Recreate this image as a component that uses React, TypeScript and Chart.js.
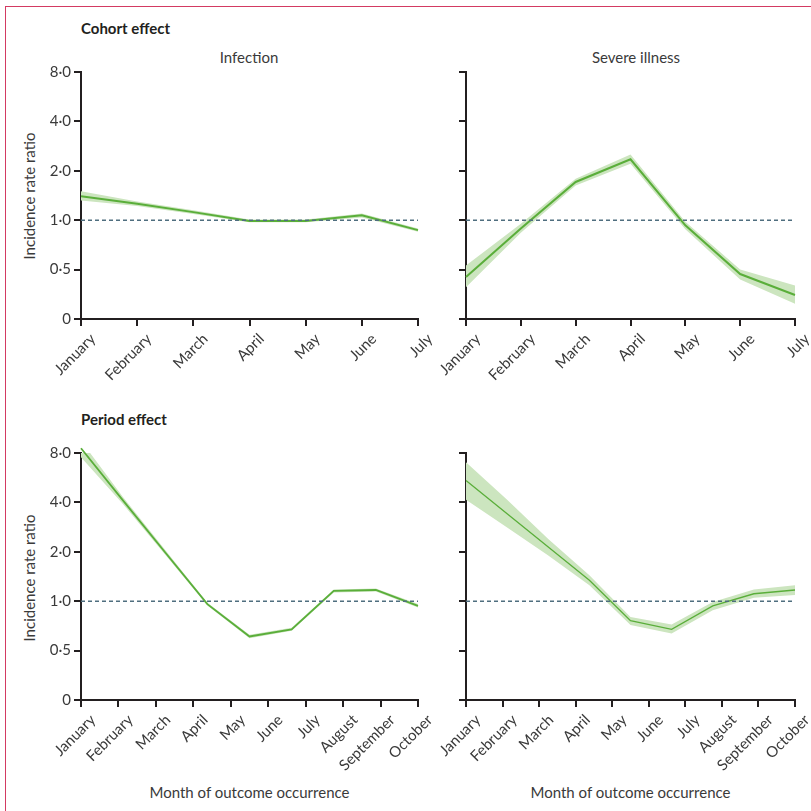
import React, { useEffect, useRef } from 'react';
import { Chart, registerables } from 'chart.js';
Chart.register(...registerables);

const COHORT_MONTHS = ['January', 'February', 'March', 'April', 'May', 'June', 'July'];
const PERIOD_MONTHS = ['January', 'February', 'March', 'April', 'May', 'June', 'July', 'August', 'September', 'October'];
const Y_TICKS = [0.25, 0.5, 1, 2, 4, 8];
const Y_TICK_LABELS = ['0', '0·5', '1·0', '2·0', '4·0', '8·0'];

// Cohort effect – infection
const COHORT_INF = [1.40, 1.26, 1.12, 0.99, 0.99, 1.07, 0.87];
const COHORT_INF_LOW = [1.32, 1.22, 1.09, 0.97, 0.97, 1.04, 0.85];
const COHORT_INF_HIGH = [1.50, 1.30, 1.15, 1.01, 1.01, 1.10, 0.89];
// Cohort effect – severe illness
const COHORT_SEV = [0.45, 0.89, 1.71, 2.35, 0.93, 0.47, 0.35];
const COHORT_SEV_LOW = [0.39, 0.84, 1.63, 2.21, 0.88, 0.435, 0.31];
const COHORT_SEV_HIGH = [0.53, 0.95, 1.79, 2.51, 0.98, 0.50, 0.40];
// Period effect – infection
const PERIOD_INF = [8.55, 4.1, 1.98, 0.96, 0.61, 0.673, 1.155, 1.17, 0.937];
const PERIOD_INF_LOW = [7.54, 3.9, 1.92, 0.94, 0.595, 0.66, 1.13, 1.145, 0.915];
const PERIOD_INF_HIGH = [9.5, 4.3, 2.05, 0.98, 0.625, 0.69, 1.18, 1.195, 0.96];
// Period effect – severe illness
const PERIOD_SEV = [5.44, 3.41, 2.14, 1.34, 0.76, 0.673, 0.937, 1.11, 1.17];
const PERIOD_SEV_LOW = [4.15, 2.81, 1.90, 1.25, 0.715, 0.636, 0.88, 1.05, 1.09];
const PERIOD_SEV_HIGH = [7.03, 4.15, 2.39, 1.44, 0.80, 0.72, 0.99, 1.18, 1.25];

const FONT = 'Lato, "Open Sans", sans-serif';
const TEXT = '#3a3a3a';
const AXIS = '#231f20';
const GREEN = '#5aae3a';
const BAND = '#cce5bf';
const DASH = '#4f6e7f';

type PanelProps = {
  left: number; top: number; width: number; height: number;
  yw: number; xh: number; padTop: number; padRight: number;
  months: string[]; values: number[]; low: number[]; high: number[];
  showY: boolean; lineWidth: number;
};

function Panel(p: PanelProps) {
  const ref = useRef<HTMLCanvasElement>(null);
  useEffect(() => {
    if (!ref.current) return;
    const n = p.values.length;
    const maxX = n - 1;
    const nt = p.months.length;
    const tickVals = p.months.map((_, k) => (k * maxX) / (nt - 1));
    const pts = (arr: number[]) => arr.map((v, i) => ({ x: i, y: v }));
    const chart = new Chart(ref.current, {
      type: 'line',
      data: {
        datasets: [
          { data: [{ x: 0, y: 1 }, { x: maxX, y: 1 }], borderColor: DASH, borderWidth: 1.4, borderDash: [4, 3], pointRadius: 0, fill: false },
          { data: pts(p.values), borderColor: GREEN, borderWidth: p.lineWidth, pointRadius: 0, fill: false, clip: false as any },
          { data: pts(p.high), borderWidth: 0, borderColor: 'transparent', pointRadius: 0, backgroundColor: BAND, fill: 3 as any, clip: false as any },
          { data: pts(p.low), borderWidth: 0, borderColor: 'transparent', pointRadius: 0, fill: false, clip: false as any },
        ],
      },
      options: {
        responsive: false,
        animation: false,
        devicePixelRatio: 1,
        layout: { padding: { top: p.padTop, right: p.padRight, left: 0, bottom: 0 } },
        plugins: { legend: { display: false }, tooltip: { enabled: false } },
        elements: { line: { tension: 0 } },
        scales: {
          x: {
            type: 'linear', min: 0, max: maxX,
            afterBuildTicks: (s: any) => { s.ticks = tickVals.map((v) => ({ value: v })); },
            afterFit: (s: any) => { s.height = p.xh; s.paddingLeft = 0; s.paddingRight = 0; },
            ticks: {
              autoSkip: false, minRotation: 45, maxRotation: 45, padding: 4, labelOffset: 12,
              font: { family: FONT, size: 15 }, color: TEXT,
              callback: (v: any, i: number) => p.months[i],
            },
            grid: { drawOnChartArea: false, drawTicks: true, tickLength: 7, color: AXIS, lineWidth: 2 },
            border: { display: true, color: AXIS, width: 2 },
          },
          y: {
            type: 'logarithmic', min: 0.25, max: 8,
            afterBuildTicks: (s: any) => { s.ticks = Y_TICKS.map((v) => ({ value: v })); },
            afterFit: (s: any) => { s.width = p.yw; s.paddingTop = 0; s.paddingBottom = 0; },
            ticks: {
              display: p.showY, padding: 3,
              font: { family: FONT, size: 15 }, color: TEXT,
              callback: (v: any) => Y_TICK_LABELS[Y_TICKS.indexOf(Number(v))],
            },
            grid: { drawOnChartArea: false, drawTicks: true, tickLength: 7, color: AXIS, lineWidth: 2 },
            border: { display: true, color: AXIS, width: 2 },
          },
        },
      } as any,
    });
    return () => chart.destroy();
  }, []);
  return (
    <canvas
      ref={ref}
      width={p.width}
      height={p.height}
      style={{ position: 'absolute', left: p.left, top: p.top, width: p.width, height: p.height }}
    />
  );
}

const txt = (extra: React.CSSProperties): React.CSSProperties => ({
  position: 'absolute', fontFamily: FONT, fontSize: 15, lineHeight: '15px', color: TEXT, whiteSpace: 'nowrap', ...extra,
});

export default function App() {
  return (
    <div style={{ position: 'absolute', left: 0, top: 0, width: 811, height: 811, background: '#fff', overflow: 'hidden' }}>
      <div style={{ position: 'absolute', left: 5, top: 6, width: 806, height: 805, borderTop: '1px solid #d33a62', borderLeft: '1px solid #d33a62', boxSizing: 'border-box' }} />
      <div style={txt({ left: 81, top: 21, fontWeight: 700, color: '#231f20' })}>Cohort effect</div>
      <div style={txt({ left: 81, top: 412, fontWeight: 700, color: '#231f20' })}>Period effect</div>
      <div style={txt({ left: 249, top: 50, transform: 'translateX(-50%)' })}>Infection</div>
      <div style={txt({ left: 636, top: 50, transform: 'translateX(-50%)' })}>Severe illness</div>
      <div style={txt({ left: 28.5, top: 195.5, transform: 'translate(-50%,-50%) rotate(-90deg)' })}>Incidence rate ratio</div>
      <div style={txt({ left: 28.5, top: 577.5, transform: 'translate(-50%,-50%) rotate(-90deg)' })}>Incidence rate ratio</div>
      <div style={txt({ left: 249.5, top: 785, transform: 'translateX(-50%)' })}>Month of outcome occurrence</div>
      <div style={txt({ left: 630.5, top: 785, transform: 'translateX(-50%)' })}>Month of outcome occurrence</div>

      <Panel left={0} top={60} width={440} height={340} yw={81} xh={81} padTop={12} padRight={22}
        months={COHORT_MONTHS} values={COHORT_INF} low={COHORT_INF_LOW} high={COHORT_INF_HIGH} showY={true} lineWidth={2} />
      <Panel left={440} top={60} width={371} height={340} yw={26} xh={81} padTop={12} padRight={16}
        months={COHORT_MONTHS} values={COHORT_SEV} low={COHORT_SEV_LOW} high={COHORT_SEV_HIGH} showY={false} lineWidth={2} />
      <Panel left={0} top={425} width={440} height={355} yw={81} xh={80} padTop={28} padRight={22}
        months={PERIOD_MONTHS} values={PERIOD_INF} low={PERIOD_INF_LOW} high={PERIOD_INF_HIGH} showY={true} lineWidth={1.8} />
      <Panel left={440} top={425} width={371} height={355} yw={26} xh={80} padTop={28} padRight={16}
        months={PERIOD_MONTHS} values={PERIOD_SEV} low={PERIOD_SEV_LOW} high={PERIOD_SEV_HIGH} showY={false} lineWidth={1.3} />
    </div>
  );
}
